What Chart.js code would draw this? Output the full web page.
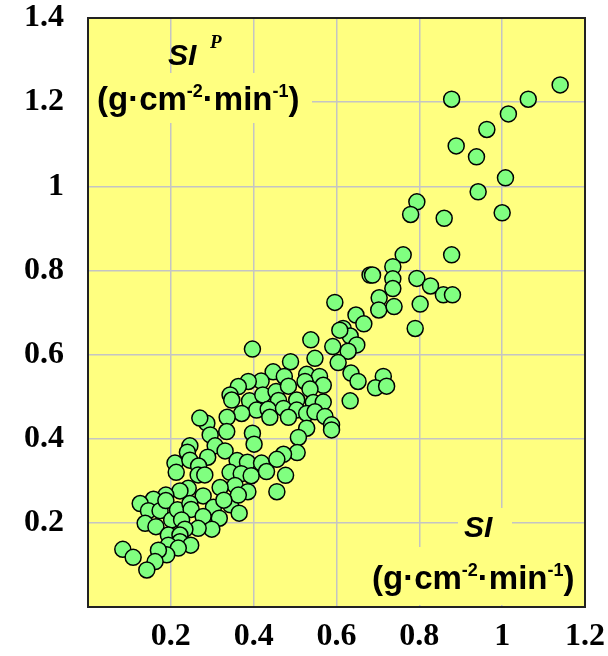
<!DOCTYPE html>
<html>
<head>
<meta charset="utf-8">
<script src="https://cdn.jsdelivr.net/npm/chart.js@4"></script>
<style>
  body { margin: 0; background: #fff; }
  #wrap { width: 608px; height: 656px; }
</style>
</head>
<body>
<div id="wrap"><canvas id="graph"></canvas></div>
<script>
// SI (x) and SI^P (y), g·cm-2·min-1
var siValues = [
  1.140,0.878,1.063,1.015,0.963,0.889,0.938,1.008,0.942,1.000,
  0.794,0.779,0.860,0.761,0.878,0.736,0.681,0.687,0.736,0.736,
  0.794,0.827,0.858,0.880,0.703,0.596,0.702,0.739,0.802,0.647,
  0.790,0.666,0.616,0.633,0.649,0.591,0.628,0.538,0.548,0.604,
  0.608,0.635,0.652,0.713,0.694,0.721,0.528,0.559,0.524,0.568,
  0.536,0.633,0.397,0.489,0.447,0.474,0.418,0.387,0.363,0.343,
  0.347,0.390,0.422,0.454,0.484,0.504,0.460,0.544,0.568,0.407,
  0.371,0.435,0.472,0.504,0.528,0.548,0.439,0.484,0.336,0.572,
  0.588,0.588,0.528,0.335,0.287,0.295,0.397,0.401,0.508,0.505,
  0.472,0.307,0.331,0.270,
  0.246,0.240,0.289,0.210,0.213,0.246,0.267,0.266,0.282,0.360,
  0.385,0.343,0.370,0.394,0.355,0.319,0.386,0.242,0.222,0.278,
  0.188,0.158,0.126,0.146,0.174,0.188,0.202,0.216,0.246,0.249,
  0.303,0.278,0.317,0.299,0.266,0.226,0.234,0.138,0.164,0.344,
  0.365,0.194,0.222,0.222,0.194,0.248,0.218,0.190,0.170,0.162,
  0.142,0.084,0.109,0.419,0.456,0.431,0.477,0.456,0.363,0.328
];
var sipValues = [
  1.241,1.207,1.207,1.172,1.135,1.096,1.070,1.020,0.987,0.937,
  0.963,0.933,0.924,0.837,0.837,0.809,0.789,0.789,0.780,0.757,
  0.781,0.763,0.742,0.742,0.735,0.724,0.706,0.714,0.720,0.694,
  0.662,0.673,0.662,0.644,0.623,0.619,0.608,0.635,0.591,0.581,
  0.658,0.556,0.536,0.548,0.521,0.525,0.553,0.548,0.536,0.527,
  0.518,0.490,0.613,0.583,0.559,0.548,0.537,0.536,0.524,0.504,
  0.492,0.490,0.504,0.512,0.525,0.492,0.491,0.486,0.487,0.468,
  0.460,0.470,0.472,0.468,0.460,0.464,0.451,0.451,0.451,0.453,
  0.433,0.421,0.425,0.417,0.437,0.409,0.413,0.387,0.403,0.367,
  0.363,0.383,0.371,0.449,
  0.383,0.368,0.356,0.342,0.320,0.349,0.335,0.314,0.314,0.348,
  0.344,0.320,0.317,0.312,0.289,0.284,0.274,0.282,0.276,0.264,
  0.266,0.256,0.246,0.229,0.229,0.253,0.207,0.231,0.246,0.232,
  0.237,0.215,0.211,0.185,0.187,0.207,0.185,0.199,0.191,0.243,
  0.223,0.171,0.171,0.155,0.147,0.147,0.140,0.124,0.135,0.108,
  0.088,0.137,0.118,0.342,0.351,0.322,0.313,0.274,0.266,0.254
];
var xTickLabels = ['0.2', '0.4', '0.6', '0.8', '1', '1.2'];
var yTickLabels = ['0.2', '0.4', '0.6', '0.8', '1', '1.2', '1.4'];
var unitParts = [['(g·cm', false], ['-2', true], ['·min', false], ['-1', true], [')', false]];

var points = siValues.map(function(v, i) { return { x: v, y: sipValues[i] }; });

function tickText(list) {
    return function(value) {
        var s = String(Math.round(value * 10) / 10);
        return list.indexOf(s) >= 0 ? s : '';
    };
}

// keep the plot frame fixed, tick labels may overhang
function noScalePadding(scale) {
    scale.paddingTop = 0;
    scale.paddingBottom = 0;
    scale.paddingLeft = 0;
    scale.paddingRight = 0;
}

// draws "(g·cm-2·min-1)" with raised exponents, on a yellow box
function drawUnits(ctx, x, y, size, box) {
    ctx.save();
    ctx.fillStyle = '#ffff80';
    ctx.fillRect(box[0], box[1], box[2], box[3]);
    ctx.fillStyle = '#000';
    ctx.textBaseline = 'alphabetic';
    ctx.textAlign = 'left';
    unitParts.forEach(function(p) {
        if (p[1]) {
            ctx.font = 'bold ' + Math.round(size * 0.56) + 'px "Liberation Sans", Arial';
            ctx.fillText(p[0], x, y - size * 0.4);
        } else {
            ctx.font = 'bold ' + size + 'px "Liberation Sans", Arial';
            ctx.fillText(p[0], x, y);
        }
        x += ctx.measureText(p[0]).width;
    });
    ctx.restore();
}

var framePlugin = {
    id: 'frame',
    beforeDraw: function(chart) {
        var a = chart.chartArea, ctx = chart.ctx;
        ctx.save();
        ctx.fillStyle = '#ffff80';
        ctx.fillRect(a.left, a.top, a.right - a.left, a.bottom - a.top);
        ctx.restore();
    },
    beforeDatasetsDraw: function(chart) {
        var a = chart.chartArea, ctx = chart.ctx;
        ctx.save();
        // axis labels inside the plot
        ctx.fillStyle = '#000';
        ctx.font = 'italic bold 30px "Liberation Sans", Arial';
        ctx.fillText('SI', a.left + 80, a.top + 47);
        ctx.font = 'italic bold 19px "Liberation Serif", "Times New Roman"';
        ctx.fillText('P', a.left + 122, a.top + 30);
        drawUnits(ctx, a.left + 9, a.top + 92, 33, [a.left + 1, a.top + 55, 223, 50]);

        ctx.fillStyle = '#ffff80';
        ctx.fillRect(a.left + 370, a.top + 490, 54, 40);
        ctx.fillStyle = '#000';
        ctx.font = 'italic bold 30px "Liberation Sans", Arial';
        ctx.fillText('SI', a.left + 376, a.top + 519);
        drawUnits(ctx, a.left + 284, a.top + 571, 33, [a.left + 277, a.top + 529, 219, 58]);

        ctx.strokeStyle = '#222';
        ctx.lineWidth = 2;
        ctx.strokeRect(a.left, a.top, a.right - a.left, a.bottom - a.top);
        ctx.restore();
    }
};

var ctx = document.getElementById('graph');

new Chart(ctx, {
    type: 'scatter',
    data: {
        datasets: [
            {
                label: 'SI',
                data: points,
                pointRadius: 8,
                pointBackgroundColor: '#80ff80',
                pointBorderColor: '#000',
                pointBorderWidth: 1.5
            }
        ]
    },
    options: {
        responsive: true,
        maintainAspectRatio: false,
        animation: false,
        layout: {
            padding: { top: 18, right: 23, left: 0, bottom: 0 }
        },
        plugins: {
            legend: { display: false },
            tooltip: { enabled: false }
        },
        scales: {
            x: {
                type: 'linear',
                min: 0,
                max: 1.2,
                afterFit: function(scale) { scale.height = 49; noScalePadding(scale); },
                border: { display: false },
                grid: {
                    color: '#c4c4c4',
                    lineWidth: 1.5,
                    drawTicks: false
                },
                ticks: {
                    stepSize: 0.2,
                    padding: 14,
                    color: '#000',
                    maxRotation: 0,
                    autoSkip: false,
                    callback: tickText(xTickLabels),
                    font: { family: '"Liberation Serif", "Times New Roman"', size: 32, weight: 'bold', lineHeight: 1 }
                }
            },
            y: {
                type: 'linear',
                min: 0,
                max: 1.4,
                afterFit: function(scale) { scale.width = 88; noScalePadding(scale); },
                border: { display: false },
                grid: {
                    color: '#c4c4c4',
                    lineWidth: 1.5,
                    drawTicks: false
                },
                ticks: {
                    stepSize: 0.2,
                    padding: 24,
                    color: '#000',
                    autoSkip: false,
                    callback: tickText(yTickLabels),
                    font: { family: '"Liberation Serif", "Times New Roman"', size: 32, weight: 'bold', lineHeight: 1 }
                }
            }
        }
    },
    plugins: [framePlugin]
});
</script>
</body>
</html>
